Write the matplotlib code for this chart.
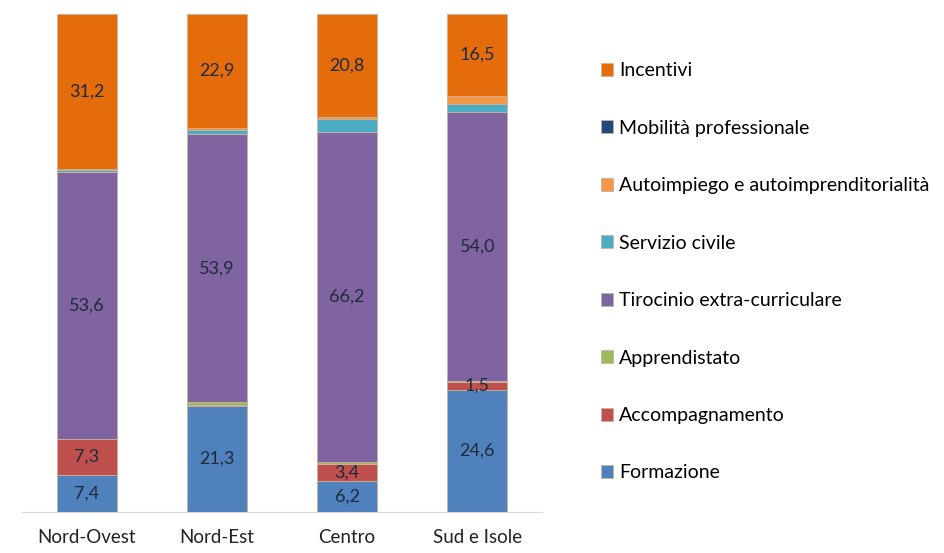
import matplotlib.pyplot as plt
import numpy as np

plt.rcParams['font.family'] = ['Lato', 'DejaVu Sans']

regions = ['Nord-Ovest', 'Nord-Est', 'Centro', 'Sud e Isole']
series = ['Formazione', 'Accompagnamento', 'Apprendistato', 'Tirocinio extra-curriculare',
          'Servizio civile', 'Autoimpiego e autoimprenditorialità', 'Mobilità professionale', 'Incentivi']
formazione = [7.4, 21.3, 6.2, 24.6]
accompagnamento = [7.3, 0.2, 3.4, 1.5]
apprendistato = [0.0, 0.5, 0.5, 0.2]
tirocinio = [53.6, 53.9, 66.2, 54.0]
servizio_civile = [0.4, 0.8, 2.5, 1.7]
autoimpiego = [0.1, 0.4, 0.4, 1.5]
mobilita = [0.0, 0.0, 0.0, 0.0]
incentivi = [31.2, 22.9, 20.8, 16.5]

colors = ['#4f81bd', '#c0504d', '#9bbb59', '#8064a2', '#4bacc6', '#f79646', '#1f497d', '#e46c0a']
labelled = {'Formazione', 'Accompagnamento', 'Tirocinio extra-curriculare', 'Incentivi'}

data = [formazione, accompagnamento, apprendistato, tirocinio,
        servizio_civile, autoimpiego, mobilita, incentivi]

fig = plt.figure(figsize=(9.45, 5.53), dpi=100)
ax = fig.add_axes([0.023, 0.074, 0.551, 0.901])

x = np.arange(len(regions))
bottom = np.zeros(len(regions))
handles = []
for name, vals, col in zip(series, data, colors):
    vals = np.array(vals)
    h = ax.bar(x, vals, 0.46, bottom=bottom, color=col, edgecolor='#c8b49a', linewidth=0.6, label=name)
    handles.append(h)
    if name in labelled:
        for xi, b, v in zip(x, bottom, vals):
            if v >= 1:
                ax.text(xi, b + v / 2, ('%.1f' % v).replace('.', ','), ha='center', va='center',
                        fontsize=13, color='#1f2a3c')
    bottom += vals

ax.set_xlim(-0.5, 3.5)
ax.set_ylim(0, 100)
ax.set_yticks([])
ax.set_xticks(x)
ax.set_xticklabels(regions, fontsize=13.5, color='#222222')
ax.tick_params(axis='x', length=0, pad=12)
for s in ['top', 'right', 'left']:
    ax.spines[s].set_visible(False)
ax.spines['bottom'].set_color('#d9d9d9')

leg = fig.legend(handles[::-1], series[::-1], loc='upper left', bbox_to_anchor=(0.617, 0.919),
                 frameon=False, fontsize=14, handlelength=0.65, handleheight=0.65,
                 handletextpad=0.3, labelspacing=2.08)

plt.savefig('out.png')
plt.close()
